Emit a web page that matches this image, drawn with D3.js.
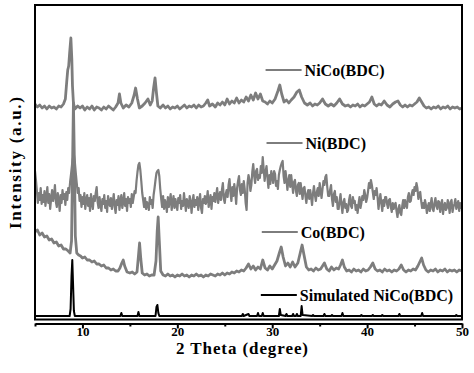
<!DOCTYPE html>
<html><head><meta charset="utf-8">
<script src="https://cdn.jsdelivr.net/npm/d3@7"></script>
<style>
html,body{margin:0;padding:0;background:#fff;}
svg{display:block;font-family:"Liberation Serif","Times New Roman",serif;font-weight:bold;}
</style></head>
<body>
<svg id="chart" width="474" height="373"></svg>
<script>
// Intensity in arbitrary units (stacked offsets included), 2θ in degrees
const seriesNames = ["NiCo(BDC)", "Ni(BDC)", "Co(BDC)", "Simulated NiCo(BDC)"];
const xTicksMajor = [10, 20, 30, 40, 50];
const xTicksMinor = [5, 15, 25, 35, 45];

const niCo = [[5,217],[5.25,214],[5.5,216],[5.75,213],[6,215],[6.25,212],[6.5,215],[6.75,213],[7,214],[7.25,212],[7.5,215],[7.75,214],[8,217],[8.2,222],[8.35,240],[8.45,251],[8.55,255],[8.65,268],[8.78,283],[8.88,262],[8.95,235],[9.05,218],[9.2,212],[9.5,215],[9.75,213],[10,215],[10.25,211],[10.5,214],[10.75,212],[11,215],[11.25,211],[11.5,214],[11.75,213],[12,211],[12.25,214],[12.5,212],[12.75,215],[13,213],[13.25,211],[13.5,214],[13.75,218],[13.9,227],[14.05,218],[14.3,213],[14.6,216],[14.9,214],[15.2,218],[15.45,226],[15.6,233],[15.8,222],[16,213],[16.3,215],[16.6,218],[16.9,222],[17.15,216],[17.35,220],[17.5,233],[17.65,243],[17.8,228],[17.95,215],[18.2,213],[18.5,216],[18.75,213],[19,215],[19.25,212],[19.5,214],[19.75,213],[20,215],[20.25,212],[20.5,214],[20.75,216],[21,213],[21.25,215],[21.5,214],[21.75,216],[22,213],[22.25,216],[22.5,214],[22.75,215],[23,218],[23.2,221],[23.4,215],[23.7,217],[24,214],[24.25,218],[24.5,216],[24.75,219],[25,216],[25.25,222],[25.5,217],[25.75,220],[26,218],[26.25,223],[26.5,218],[26.75,221],[27,219],[27.25,224],[27.5,220],[27.75,226],[28,221],[28.25,228],[28.5,222],[28.75,227],[29,220],[29.25,219],[29.5,217],[29.75,220],[30,218],[30.3,222],[30.6,230],[30.8,236],[31,227],[31.25,219],[31.5,221],[31.75,218],[32,221],[32.3,224],[32.6,229],[32.85,231],[33.1,224],[33.4,218],[33.7,216],[34,218],[34.25,215],[34.5,217],[34.75,216],[35,218],[35.3,222],[35.6,217],[35.9,215],[36.2,217],[36.5,215],[36.8,218],[37.1,222],[37.4,217],[37.7,215],[38,216],[38.25,214],[38.5,216],[38.75,215],[39,217],[39.25,214],[39.5,216],[39.75,215],[40,217],[40.25,219],[40.5,224],[40.75,217],[41,215],[41.25,217],[41.5,216],[41.8,220],[42.1,216],[42.4,214],[42.7,217],[43,219],[43.25,220],[43.5,216],[43.75,214],[44,216],[44.25,214],[44.5,216],[44.75,215],[45,217],[45.25,219],[45.5,223],[45.75,219],[46,215],[46.25,213],[46.5,214],[46.75,212],[47,214],[47.25,213],[47.5,215],[47.75,212],[48,214],[48.25,213],[48.5,215],[48.75,212],[49,214],[49.25,213],[49.5,214],[49.75,212],[50,213]];

// Ni(BDC): recorded every 0.1° from 5.0° to 50.0°
const niStart = 5, niStep = 0.1;
const niIntensity = [
150,141,130,118,128,121,133,117,126,119,
130,115,124,134,118,127,112,122,131,120,
125,136,119,114,128,121,110,126,118,131,
122,127,116,129,121,133,128,139,147,156,
163,166,159,148,138,128,133,120,126,114,
124,117,128,112,121,126,115,123,110,127,
118,112,125,120,128,134,119,113,124,116,
110,122,117,126,113,120,109,125,118,115,
123,112,119,127,114,108,121,116,125,111,
120,126,113,119,128,115,122,110,124,118,
122,114,127,118,124,130,128,140,149,156,
158,151,140,128,121,114,123,112,119,116,
111,124,117,121,113,126,133,141,148,150,
151,145,132,122,114,125,112,121,117,109,
124,114,120,127,111,118,125,113,122,116,
111,123,118,126,112,120,115,128,119,110,
122,117,113,125,120,108,119,126,114,121,
116,124,111,119,127,113,108,122,118,125,
117,121,130,114,119,126,112,124,120,128,
119,126,133,118,124,129,121,131,138,122,
118,127,131,124,136,142,128,120,134,125,
137,129,117,133,140,145,131,126,137,128,
140,132,118,111,138,146,141,130,136,149,
157,145,138,150,152,141,146,143,155,148,
164,152,140,149,155,143,133,146,137,150,
145,138,150,147,135,140,132,146,151,155,
158,160,145,138,150,142,131,140,146,134,
146,137,128,139,141,130,125,136,138,127,
138,129,122,133,134,125,118,127,131,122,
131,124,116,128,135,126,120,129,133,125,
138,130,123,132,140,136,144,146,134,125,
125,131,136,122,115,127,130,119,124,112,
112,120,127,116,108,119,122,113,117,109,
111,121,126,115,113,124,118,120,111,116,
108,117,124,113,118,125,121,131,126,119,
123,130,138,133,141,136,129,122,130,126,
133,124,112,120,127,118,110,121,115,124,
124,117,113,121,122,114,109,118,112,116,
118,110,104,112,116,108,106,115,121,113,
121,116,113,124,128,119,120,127,131,126,
134,130,138,133,122,127,129,120,113,118,
113,121,116,108,114,118,110,117,123,112,
110,118,123,115,112,120,119,109,116,121,
107,115,118,111,113,121,116,108,119,121,
109,114,117,122,112,116,120,110,118,113,
115];
const ni = niIntensity.map((v, i) => [niStart + i * niStep, v]);

const co = [[5,89],[5.25,91],[5.5,86],[5.75,88],[6,84],[6.25,85],[6.5,81],[6.75,82],[7,78],[7.25,79],[7.5,75],[7.75,76],[8,72],[8.25,72],[8.5,70],[8.7,68],[8.85,80],[8.95,150],[9.05,218],[9.15,160],[9.25,85],[9.4,68],[9.6,66],[9.8,65],[10,63],[10.25,64],[10.5,61],[10.75,61],[11,59],[11.25,60],[11.5,57],[11.75,57],[12,55],[12.25,56],[12.5,53],[12.75,53],[13,51],[13.25,52],[13.5,50],[13.75,50],[13.95,53],[14.15,58],[14.3,61],[14.45,55],[14.7,49],[15,48],[15.25,49],[15.5,47],[15.75,49],[15.9,65],[16.02,78],[16.15,62],[16.3,48],[16.55,46],[16.8,47],[17.05,45],[17.3,46],[17.55,46],[17.75,60],[17.88,90],[17.98,104],[18.1,80],[18.25,50],[18.5,46],[18.75,45],[19,47],[19.25,45],[19.5,46],[19.75,44],[20,46],[20.25,45],[20.5,47],[20.75,45],[21,46],[21.25,44],[21.5,46],[21.75,45],[22,47],[22.25,45],[22.5,46],[22.75,44],[23,46],[23.25,45],[23.5,47],[23.75,46],[24,45],[24.25,47],[24.5,46],[24.75,48],[25,46],[25.25,48],[25.5,47],[25.75,49],[26,48],[26.25,50],[26.5,49],[26.75,51],[27,50],[27.25,53],[27.5,57],[27.75,52],[28,55],[28.25,51],[28.5,54],[28.75,52],[29,61],[29.25,53],[29.5,51],[29.75,55],[30,52],[30.25,56],[30.5,60],[30.75,68],[30.95,74],[31.15,64],[31.4,55],[31.65,58],[31.9,54],[32.15,59],[32.4,54],[32.7,58],[32.95,68],[33.15,76],[33.35,66],[33.6,54],[33.85,51],[34.1,52],[34.35,50],[34.6,53],[34.85,51],[35.1,52],[35.3,55],[35.5,58],[35.75,52],[36,50],[36.25,54],[36.5,51],[36.75,53],[37,52],[37.2,56],[37.4,61],[37.6,54],[37.85,50],[38.1,51],[38.35,49],[38.6,52],[38.85,50],[39.1,51],[39.35,49],[39.6,52],[39.85,50],[40.1,51],[40.35,54],[40.6,58],[40.85,52],[41.1,50],[41.35,51],[41.6,49],[41.85,52],[42.1,50],[42.35,51],[42.6,49],[42.85,51],[43.1,50],[43.35,52],[43.6,56],[43.85,51],[44.1,49],[44.35,51],[44.6,50],[44.85,52],[45.1,51],[45.35,55],[45.6,60],[45.75,63],[45.95,56],[46.2,51],[46.45,49],[46.7,51],[46.95,50],[47.2,52],[47.45,49],[47.7,51],[47.95,50],[48.2,52],[48.45,49],[48.7,51],[48.95,50],[49.2,51],[49.45,49],[49.7,51],[50,50]];

const simulated = [[5,5],[8.65,5],[8.75,12],[8.85,45],[8.93,61],[9,40],[9.1,10],[9.2,5],[14,5],[14.1,8],[14.2,5],[15.8,5],[15.9,9],[16,5],[17.7,5],[17.8,14],[17.9,16],[18,8],[18.1,5],[26.8,5],[26.9,7],[27,5],[27.5,7],[27.6,5],[28.4,5],[28.5,8],[28.6,5],[28.9,5],[29,8],[29.1,5],[30.7,5],[30.8,12],[30.9,6],[31.4,5],[31.5,7],[31.6,5],[32.1,5],[32.2,7],[32.3,5],[32.5,5],[32.6,7],[32.7,5],[33,5],[33.1,15],[33.2,6],[34.2,5],[34.3,6],[34.4,5],[35.4,5],[35.5,7],[35.6,5],[36.2,5],[36.3,6],[36.4,5],[37.3,5],[37.4,8],[37.5,5],[39.3,5],[39.4,6],[39.5,5],[40.5,5],[40.6,6],[40.7,5],[41.5,5],[41.6,6],[41.7,5],[43.3,5],[43.4,7],[43.5,5],[45.7,5],[45.8,8],[45.9,5],[49.3,5],[49.4,6],[49.5,5],[50,5]];

// legend anchor positions in data units: [theta of line start, intensity]
const legendPos = [[29.3, 251], [29.4, 178], [28.9, 89], [28.8, 26]];

const svg = d3.select("#chart");
const L = 35, R = 462, T = 5, B = 321;
const x = d3.scaleLinear().domain([5, 50]).range([L, R]);
const y = d3.scaleLinear().domain([0, 316]).range([B, T]);

const gray = "#7d7d7d";
const series = [
  {name: seriesNames[0], data: niCo, color: gray, w: 2.8},
  {name: seriesNames[1], data: ni, color: gray, w: 2.2},
  {name: seriesNames[2], data: co, color: gray, w: 2.8},
  {name: seriesNames[3], data: simulated, color: "#000", w: 2}
];

svg.append("defs").append("clipPath").attr("id", "clip")
  .append("rect").attr("x", L).attr("y", T).attr("width", R - L).attr("height", B - T);

const line = d3.line().x(d => x(d[0])).y(d => y(d[1]));
const g = svg.append("g").attr("clip-path", "url(#clip)");
[3, 2, 1, 0].forEach(i => {
  const s = series[i];
  g.append("path").datum(s.data).attr("d", line)
    .attr("fill", "none").attr("stroke", s.color).attr("stroke-width", s.w)
    .attr("stroke-linejoin", "round");
});

// frame
svg.append("rect").attr("x", L).attr("y", T).attr("width", R - L).attr("height", B - 1.5 - T)
  .attr("fill", "none").attr("stroke", "#000").attr("stroke-width", 2);

// x axis
const axY = 323.5;
const axMajor = d3.axisBottom(x).tickValues(xTicksMajor).tickSize(5).tickSizeOuter(0).tickFormat(d3.format("d"));
const gx = svg.append("g").attr("transform", `translate(0,${axY})`).call(axMajor);
gx.select(".domain").attr("stroke", "#000").attr("stroke-width", 2);
gx.selectAll(".tick line").attr("stroke", "#000").attr("stroke-width", 2);
gx.selectAll(".tick text").attr("y", 3).attr("dy", "0.71em")
  .attr("font-size", 13).attr("font-weight", "bold").attr("fill", "#000")
  .attr("font-family", "'Liberation Serif','Times New Roman',serif");
const axMinor = d3.axisBottom(x).tickValues(xTicksMinor).tickSize(3).tickSizeOuter(0).tickFormat("");
const gm = svg.append("g").attr("transform", `translate(0,${axY})`).call(axMinor);
gm.select(".domain").remove();
gm.selectAll(".tick line").attr("stroke", "#000").attr("stroke-width", 2);

// axis titles
svg.append("text").attr("x", 242).attr("y", 354).attr("text-anchor", "middle")
  .attr("font-size", 17).attr("textLength", 132).attr("lengthAdjust", "spacing")
  .text("2 Theta (degree)");
svg.append("text").attr("transform", "translate(21,163) rotate(-90)")
  .attr("text-anchor", "middle").attr("font-size", 17)
  .attr("textLength", 132).attr("lengthAdjust", "spacing")
  .text("Intensity (a.u.)");

// legends
series.forEach((s, i) => {
  const [t0, v] = legendPos[i];
  const x0 = x(t0), yy = y(v);
  svg.append("line").attr("x1", x0).attr("x2", x0 + 36).attr("y1", yy).attr("y2", yy)
    .attr("stroke", s.color).attr("stroke-width", 2);
  svg.append("text").attr("x", x0 + 39).attr("y", yy).attr("dy", "0.35em")
    .attr("font-size", 16).attr("fill", "#000").text(s.name);
});
</script>
</body></html>
